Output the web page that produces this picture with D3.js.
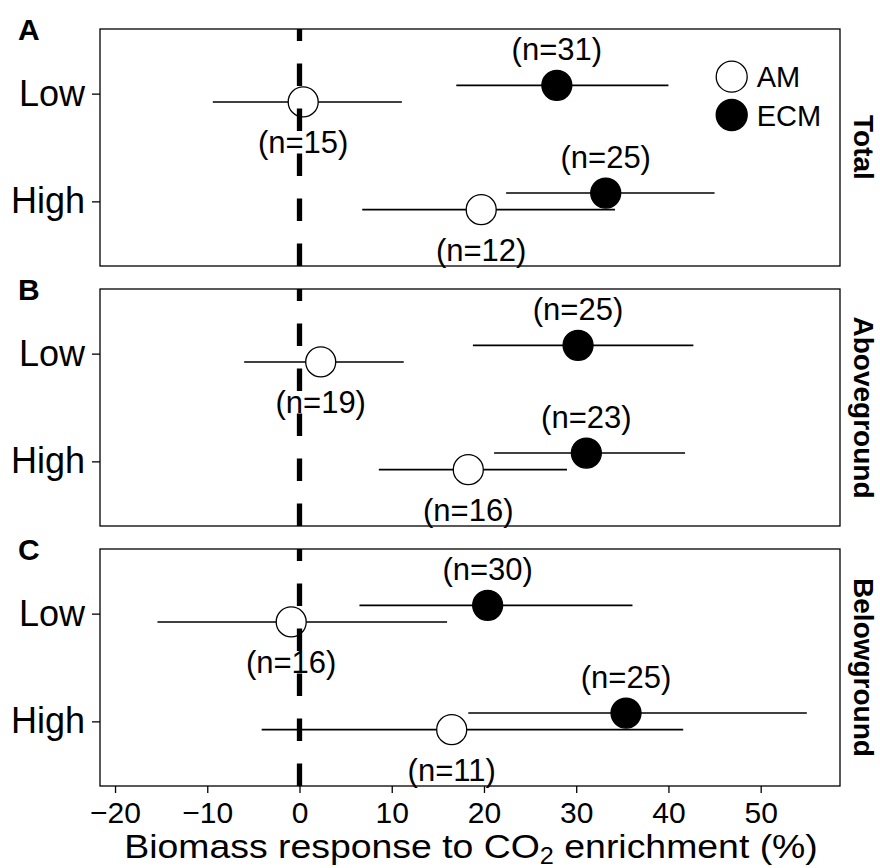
<!DOCTYPE html>
<html>
<head>
<meta charset="utf-8">
<script src="https://cdn.jsdelivr.net/npm/d3@7"></script>
<style>
  body { margin: 0; background: #fff; }
  text { font-family: "Liberation Sans", Arial, Helvetica, sans-serif; fill: #000; }
</style>
</head>
<body>
<div id="chart"></div>
<script>
// rows inside every panel: AM Low, ECM Low, AM High, ECM High
const rowLevel = ["Low", "Low", "High", "High"];
const rowGroup = ["AM", "ECM", "AM", "ECM"];
const levels = ["Low", "High"];
const groups = ["AM", "ECM"];
const panelNames = ["Total", "Aboveground", "Belowground"];
const panelLetters = ["A", "B", "C"];

// Total
const totalMean = [0.4, 27.9, 19.7, 33.2];
const totalLow = [-9.4, 17.0, 6.8, 22.4];
const totalHigh = [11.1, 40.0, 34.2, 45.0];
const totalN = [15, 31, 12, 25];
// Aboveground
const aboveMean = [2.3, 30.2, 18.3, 31.1];
const aboveLow = [-6.0, 18.8, 8.6, 21.1];
const aboveHigh = [11.3, 42.7, 29.0, 41.8];
const aboveN = [19, 25, 16, 23];
// Belowground
const belowMean = [-0.9, 20.4, 16.5, 35.4];
const belowLow = [-15.4, 6.5, -4.1, 18.3];
const belowHigh = [16.0, 36.1, 41.6, 55.0];
const belowN = [16, 30, 11, 25];

const xTicks = [-20, -10, 0, 10, 20, 30, 40, 50];

const panelData = [
    [totalMean, totalLow, totalHigh, totalN],
    [aboveMean, aboveLow, aboveHigh, aboveN],
    [belowMean, belowLow, belowHigh, belowN]
];

const width = 880, height = 868;
const left = 100, right = 840, ph = 237;
const tops = [29, 289, 549];

const svg = d3.select("#chart").append("svg")
    .attr("width", width)
    .attr("height", height);

const x = d3.scaleLinear().domain([-21.63, 58.6]).range([left, right]);
const y = d3.scalePoint().domain(levels).range([0, ph]).padding(0.6);
const dodge = d3.scaleOrdinal().domain(groups).range([8.3, -8.3]);
const fill = d3.scaleOrdinal().domain(groups).range(["#fff", "#000"]);

panelNames.forEach(function (name, p) {
    const cols = panelData[p];
    const rows = rowLevel.map((lv, i) => ({
        level: lv, group: rowGroup[i],
        mean: cols[0][i], lo: cols[1][i], hi: cols[2][i], n: cols[3][i]
    }));

    const g = svg.append("g").attr("transform", "translate(0," + tops[p] + ")");

    // y axis
    const ya = g.append("g")
        .attr("transform", "translate(" + left + ",0)")
        .call(d3.axisLeft(y).tickSize(8).tickPadding(7));
    ya.select(".domain").remove();
    ya.selectAll(".tick line").attr("stroke-width", 1.3);
    ya.selectAll("text").attr("font-size", 36);

    // error bars
    g.selectAll(".err").data(rows).enter().append("line")
        .attr("class", "err")
        .attr("x1", d => x(d.lo))
        .attr("x2", d => x(d.hi))
        .attr("y1", d => y(d.level) + dodge(d.group))
        .attr("y2", d => y(d.level) + dodge(d.group))
        .attr("stroke", "#000")
        .attr("stroke-width", 1.6);

    // points
    g.selectAll(".pt").data(rows).enter().append("circle")
        .attr("class", "pt")
        .attr("cx", d => x(d.mean))
        .attr("cy", d => y(d.level) + dodge(d.group))
        .attr("r", 15)
        .attr("fill", d => fill(d.group))
        .attr("stroke", "#000")
        .attr("stroke-width", 1.3);

    // zero line, dashes counted from the bottom
    g.append("line")
        .attr("x1", x(0)).attr("x2", x(0))
        .attr("y1", ph).attr("y2", 0)
        .attr("stroke", "#000")
        .attr("stroke-width", 5.3)
        .attr("stroke-dasharray", "22.5,22.5");

    // n labels: AM below, ECM above
    g.selectAll(".nlab").data(rows).enter().append("text")
        .attr("class", "nlab")
        .attr("x", d => x(d.mean))
        .attr("y", d => y(d.level) + dodge(d.group) + (d.group === "AM" ? 51 : -25.5))
        .attr("text-anchor", "middle")
        .attr("font-size", 31)
        .text(d => "(n=" + d.n + ")");

    // panel border
    g.append("rect")
        .attr("x", left).attr("y", 0)
        .attr("width", right - left).attr("height", ph)
        .attr("fill", "none")
        .attr("stroke", "#000")
        .attr("stroke-width", 1.3);

    // strip label
    g.append("text")
        .attr("transform", "translate(854," + (ph / 2) + ") rotate(90)")
        .attr("text-anchor", "middle")
        .attr("font-size", 28)
        .attr("font-weight", "bold")
        .text(name);

    // panel letter
    g.append("text")
        .attr("x", 18).attr("y", 11)
        .attr("font-size", 30)
        .attr("font-weight", "bold")
        .text(panelLetters[p]);

    if (p === 2) {
        const xa = g.append("g")
            .attr("transform", "translate(0," + ph + ")")
            .call(d3.axisBottom(x).tickValues(xTicks).tickSize(7).tickPadding(9));
        xa.select(".domain").remove();
        xa.selectAll(".tick line").attr("stroke-width", 1.3);
        xa.selectAll("text").attr("font-size", 30);
    }

    if (p === 0) {
        const lg = g.selectAll(".leg").data(groups).enter().append("g")
            .attr("class", "leg")
            .attr("transform", (d, i) => "translate(731.7," + (47.7 + i * 38.3) + ")");
        lg.append("circle")
            .attr("r", 15.5)
            .attr("fill", d => fill(d))
            .attr("stroke", "#000")
            .attr("stroke-width", 1.3);
        lg.append("text")
            .attr("x", 25)
            .attr("y", 10.5)
            .attr("font-size", 29)
            .text(d => d);
    }
});

// x axis title, stretched a little to the width of the original lettering
const title = svg.append("text")
    .attr("transform", "translate(471,858) scale(1.1,1)")
    .attr("text-anchor", "middle")
    .attr("font-size", 34);
title.append("tspan").text("Biomass response to CO");
title.append("tspan").attr("font-size", 23).attr("dy", 6).text("2");
title.append("tspan").attr("dy", -6).text(" enrichment (%)");
</script>
</body>
</html>
